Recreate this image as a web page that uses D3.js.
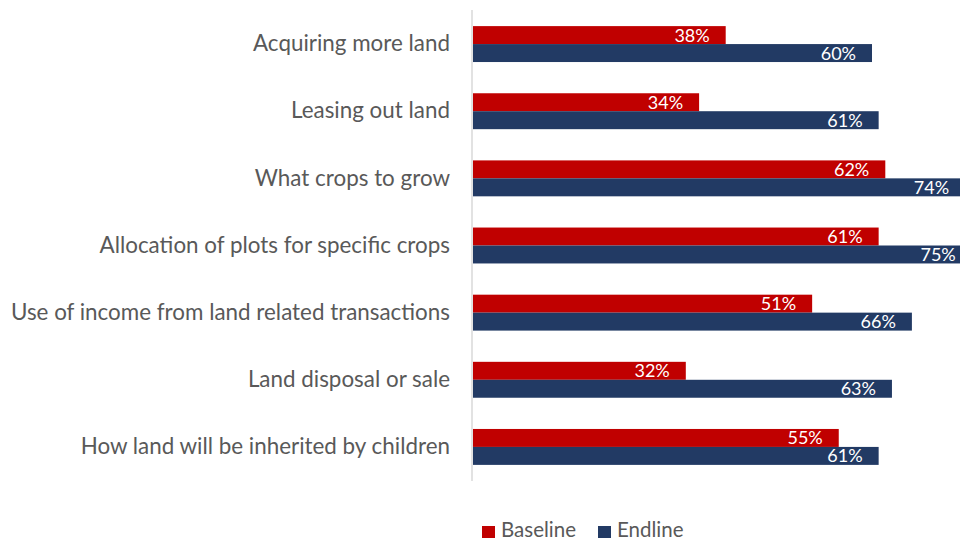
<!DOCTYPE html>
<html>
<head>
<meta charset="utf-8">
<script src="https://cdn.jsdelivr.net/npm/d3@7"></script>
<style>
  body { margin: 0; background: #fff; }
  svg { display: block; font-family: "Lato", "Open Sans", sans-serif; }
</style>
</head>
<body>
<div id="chart"></div>
<script>
// chart data
const categories = [
  "Acquiring more land",
  "Leasing out land",
  "What crops to grow",
  "Allocation of plots for specific crops",
  "Use of income from land related transactions",
  "Land disposal or sale",
  "How land will be inherited by children"
];
const baseline = [38, 34, 62, 61, 51, 32, 55];
const endline = [60, 61, 74, 75, 66, 63, 61];
const seriesNames = ["Baseline", "Endline"];
const colors = ["#C00000", "#223A64"];

const width = 960, height = 542,
    margin = ({ top: 10, right: 0, bottom: 61, left: 473 });

const svg = d3.select("#chart")
  .append("svg")
  .attr("width", width)
  .attr("height", height);

const rows = categories.map((c, i) => ({ cat: c, vals: [baseline[i], endline[i]] }));

// bars run past the right edge in the original, so the 100% end sits off-canvas
let x = d3.scaleLinear()
  .domain([0, 100])
  .range([margin.left, margin.left + 665]);

let y = d3.scaleBand()
  .domain(categories)
  .range([margin.top, height - margin.bottom])
  .paddingInner(0.465)
  .paddingOuter(0.24);

let ySub = d3.scaleBand()
  .domain([0, 1])
  .range([0, y.bandwidth()]);

const groups = svg.append("g")
  .selectAll("g")
  .data(rows)
  .join("g")
    .attr("transform", d => `translate(0,${y(d.cat)})`);

groups.selectAll("rect")
  .data(d => d.vals)
  .join("rect")
    .attr("x", x(0))
    .attr("y", (d, i) => ySub(i))
    .attr("width", d => x(d) - x(0))
    .attr("height", ySub.bandwidth())
    .attr("fill", (d, i) => colors[i]);

groups.selectAll("text")
  .data(d => d.vals)
  .join("text")
    .attr("x", d => x(d) - 16)
    .attr("y", (d, i) => ySub(i) + ySub.bandwidth() / 2)
    .attr("dy", "0.36em")
    .attr("text-anchor", "end")
    .attr("fill", "#fff")
    .style("font-size", "18px")
    .text(d => d + "%");

// category axis
const yAxis = svg.append("g")
  .attr("transform", `translate(${margin.left - 1},0)`)
  .call(d3.axisLeft(y).tickSize(0).tickPadding(22).tickSizeOuter(0));

yAxis.select(".domain")
  .attr("d", `M0,${margin.top}V${height - margin.bottom}`)
  .attr("stroke", "#d9d9d9")
  .attr("stroke-width", 1.5);

yAxis.selectAll("text")
  .attr("fill", "#595959")
  .style("font-size", "22.4px")
  .style("font-family", "Lato, sans-serif");

// legend
const legend = svg.append("g")
  .attr("transform", "translate(482,530)");

let lx = 0;
seriesNames.forEach((name, i) => {
  const item = legend.append("g").attr("transform", `translate(${lx},0)`);
  item.append("rect")
    .attr("x", 0)
    .attr("y", -4)
    .attr("width", 13)
    .attr("height", 12)
    .attr("fill", colors[i]);
  const t = item.append("text")
    .attr("x", 19)
    .attr("dy", "0.36em")
    .attr("fill", "#595959")
    .style("font-size", "20.5px")
    .text(name);
  lx += 19 + t.node().getComputedTextLength() + 22;
});
</script>
</body>
</html>
